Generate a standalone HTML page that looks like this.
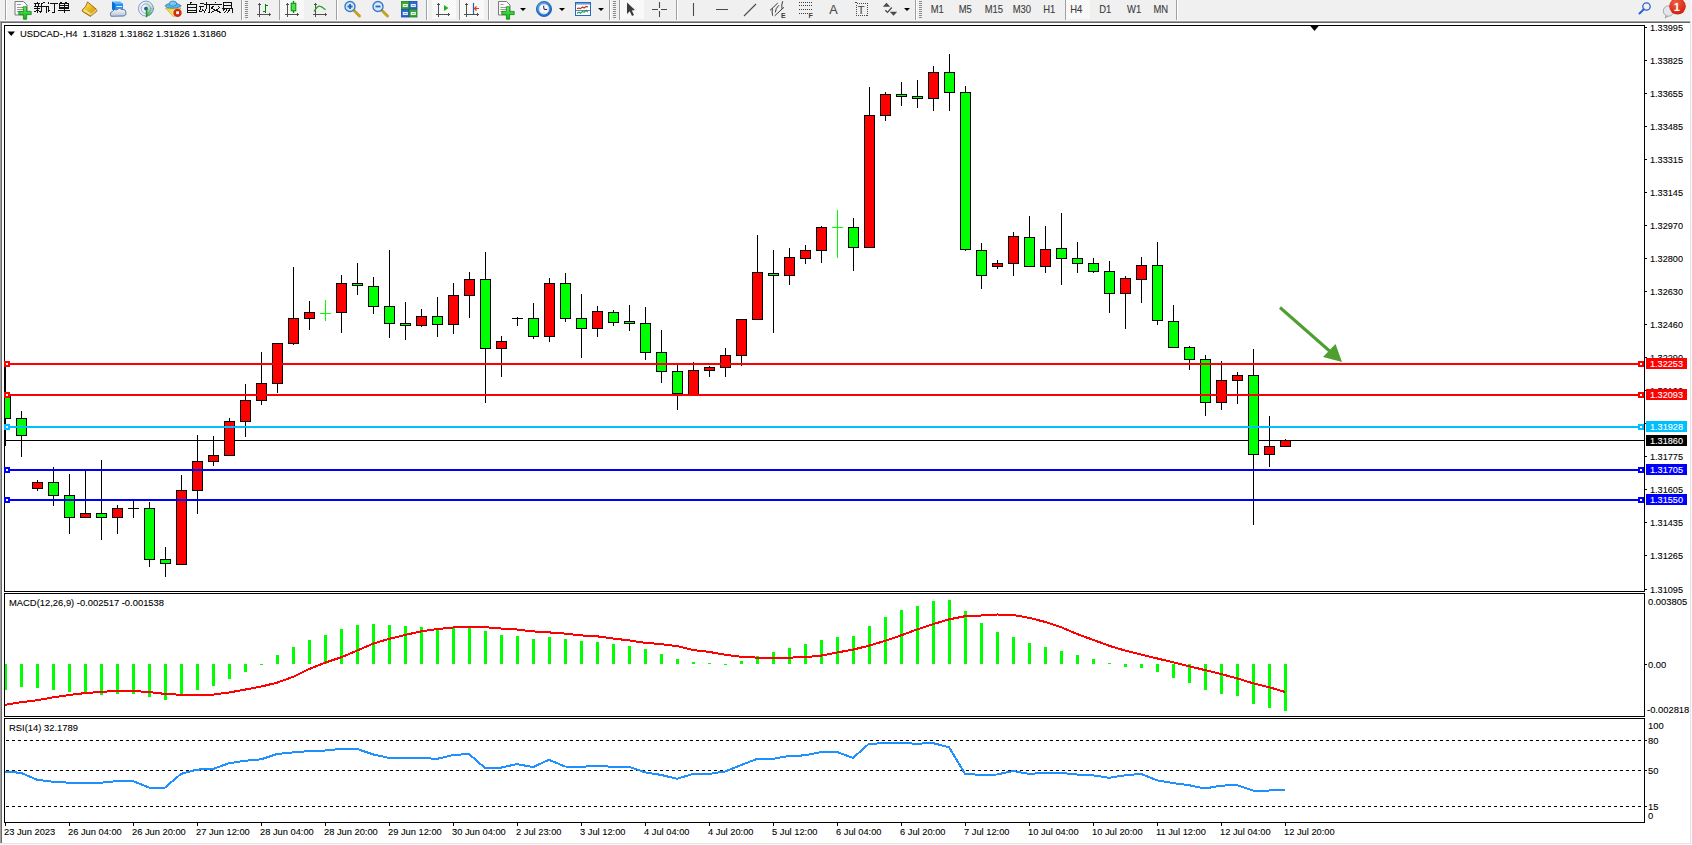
<!DOCTYPE html>
<html><head><meta charset="utf-8"><title>MT4</title>
<style>
html,body{margin:0;padding:0;width:1692px;height:845px;overflow:hidden;background:#f0f0f0;}
svg{position:absolute;left:0;top:0;display:block;}
text{font-family:"Liberation Sans",sans-serif;stroke-width:0.1px;}
</style></head><body>
<svg width="1692" height="845" viewBox="0 0 1692 845" shape-rendering="crispEdges">
<rect x="0" y="0" width="1692" height="20" fill="#f0f0f0"/>
<defs><pattern id="chk" width="2" height="2" patternUnits="userSpaceOnUse"><rect width="2" height="2" fill="#f4f4f4"/><rect width="1" height="1" fill="#fdfdfd"/><rect x="1" y="1" width="1" height="1" fill="#fdfdfd"/></pattern><linearGradient id="gold" x1="0" y1="0" x2="1" y2="1"><stop offset="0" stop-color="#fff0a0"/><stop offset="0.5" stop-color="#e8b818"/><stop offset="1" stop-color="#c08810"/></linearGradient><radialGradient id="badge" cx="0.4" cy="0.3" r="0.7"><stop offset="0" stop-color="#f06040"/><stop offset="1" stop-color="#d02010"/></radialGradient><linearGradient id="gpl" x1="0" y1="0" x2="0" y2="1"><stop offset="0" stop-color="#60f060"/><stop offset="1" stop-color="#10b010"/></linearGradient><linearGradient id="blu" x1="0" y1="0" x2="1" y2="1"><stop offset="0" stop-color="#70b8f0"/><stop offset="1" stop-color="#1060c0"/></linearGradient><linearGradient id="cld" x1="0" y1="0" x2="0" y2="1"><stop offset="0" stop-color="#ffffff"/><stop offset="1" stop-color="#b8c4d8"/></linearGradient><linearGradient id="sig" x1="0" y1="0" x2="0" y2="1"><stop offset="0" stop-color="#e8f0e0" stop-opacity="0.3"/><stop offset="1" stop-color="#40b040"/></linearGradient><linearGradient id="yel" x1="0" y1="0" x2="1" y2="1"><stop offset="0" stop-color="#f0c830"/><stop offset="1" stop-color="#ffff90"/></linearGradient><radialGradient id="clk" cx="0.4" cy="0.35" r="0.7"><stop offset="0" stop-color="#6ab8ff"/><stop offset="1" stop-color="#1060c8"/></radialGradient></defs>
<g shape-rendering="crispEdges">
<rect x="5" y="0" width="1" height="20" fill="#a0a0a0"/><rect x="6" y="0" width="1" height="20" fill="#ffffff"/>
<rect x="241" y="0" width="1" height="20" fill="#a0a0a0"/><rect x="242" y="0" width="1" height="20" fill="#ffffff"/>
<rect x="245" y="1" width="3" height="1" fill="#8c8c8c"/>
<rect x="245" y="3" width="3" height="1" fill="#8c8c8c"/>
<rect x="245" y="5" width="3" height="1" fill="#8c8c8c"/>
<rect x="245" y="7" width="3" height="1" fill="#8c8c8c"/>
<rect x="245" y="9" width="3" height="1" fill="#8c8c8c"/>
<rect x="245" y="11" width="3" height="1" fill="#8c8c8c"/>
<rect x="245" y="13" width="3" height="1" fill="#8c8c8c"/>
<rect x="245" y="15" width="3" height="1" fill="#8c8c8c"/>
<rect x="245" y="17" width="3" height="1" fill="#8c8c8c"/>
<rect x="279" y="0" width="1" height="20" fill="#a0a0a0"/><rect x="280" y="0" width="1" height="20" fill="#ffffff"/>
<rect x="280" y="0" width="24" height="19" fill="url(#chk)"/>
<rect x="336" y="0" width="1" height="20" fill="#a0a0a0"/><rect x="337" y="0" width="1" height="20" fill="#ffffff"/>
<rect x="426" y="0" width="1" height="20" fill="#a0a0a0"/><rect x="427" y="0" width="1" height="20" fill="#ffffff"/>
<rect x="432" y="0" width="24" height="19" fill="url(#chk)"/>
<rect x="459" y="0" width="1" height="20" fill="#a0a0a0"/><rect x="460" y="0" width="1" height="20" fill="#ffffff"/>
<rect x="460" y="0" width="24" height="19" fill="url(#chk)"/>
<rect x="488" y="0" width="1" height="20" fill="#a0a0a0"/><rect x="489" y="0" width="1" height="20" fill="#ffffff"/>
<rect x="609" y="0" width="1" height="20" fill="#a0a0a0"/><rect x="610" y="0" width="1" height="20" fill="#ffffff"/>
<rect x="613" y="1" width="3" height="1" fill="#8c8c8c"/>
<rect x="613" y="3" width="3" height="1" fill="#8c8c8c"/>
<rect x="613" y="5" width="3" height="1" fill="#8c8c8c"/>
<rect x="613" y="7" width="3" height="1" fill="#8c8c8c"/>
<rect x="613" y="9" width="3" height="1" fill="#8c8c8c"/>
<rect x="613" y="11" width="3" height="1" fill="#8c8c8c"/>
<rect x="613" y="13" width="3" height="1" fill="#8c8c8c"/>
<rect x="613" y="15" width="3" height="1" fill="#8c8c8c"/>
<rect x="613" y="17" width="3" height="1" fill="#8c8c8c"/>
<rect x="619" y="0" width="1" height="20" fill="#a0a0a0"/><rect x="620" y="0" width="1" height="20" fill="#ffffff"/>
<rect x="620" y="0" width="24" height="19" fill="url(#chk)"/>
<rect x="676" y="0" width="1" height="20" fill="#a0a0a0"/><rect x="677" y="0" width="1" height="20" fill="#ffffff"/>
<rect x="915" y="0" width="1" height="20" fill="#a0a0a0"/><rect x="916" y="0" width="1" height="20" fill="#ffffff"/>
<rect x="919" y="1" width="3" height="1" fill="#8c8c8c"/>
<rect x="919" y="3" width="3" height="1" fill="#8c8c8c"/>
<rect x="919" y="5" width="3" height="1" fill="#8c8c8c"/>
<rect x="919" y="7" width="3" height="1" fill="#8c8c8c"/>
<rect x="919" y="9" width="3" height="1" fill="#8c8c8c"/>
<rect x="919" y="11" width="3" height="1" fill="#8c8c8c"/>
<rect x="919" y="13" width="3" height="1" fill="#8c8c8c"/>
<rect x="919" y="15" width="3" height="1" fill="#8c8c8c"/>
<rect x="919" y="17" width="3" height="1" fill="#8c8c8c"/>
<rect x="1065" y="0" width="1" height="20" fill="#a0a0a0"/><rect x="1066" y="0" width="1" height="20" fill="#ffffff"/>
<rect x="1066" y="0" width="24" height="19" fill="url(#chk)"/>
<rect x="1176" y="0" width="1" height="20" fill="#a0a0a0"/><rect x="1177" y="0" width="1" height="20" fill="#ffffff"/>
</g>
<g shape-rendering="auto" fill="none" stroke-linecap="square">
<path d="M15.5,1.5 h8 l3.5,3.5 v10 h-11.5 z" fill="#fafafa" stroke="#7a7a7a"/>
<path d="M17.5,4.5 h3 M17.5,7.5 h7 M17.5,9.5 h7 M17.5,11.5 h5" stroke="#9a9a9a"/>
<path d="M23.4,6.8 h3.2 v4.6 h4.6 v3.2 h-4.6 v4.6 h-3.2 v-4.6 h-4.6 v-3.2 h4.6 z" fill="url(#gpl)" stroke="#0a8a0a" stroke-width="0.8"/>
<path d="M88,2.3 L96.8,9.6 L96.8,11.2 L90.5,16.4 L82.3,11.3 L82.3,10 L85.3,6.8 Z" fill="url(#gold)" stroke="#9a5a08" stroke-width="0.9"/>
<path d="M83.4,10.4 L90.4,15 L90.9,13.6 L84.6,9.4 Z" fill="#f8e8a8"/>
<path d="M91.2,15.2 L96.3,10.6 M91.2,14 L96.3,9.6" stroke="#e8dca0" stroke-width="0.8"/>
<path d="M112,1.5 L120,1.5 L123,3.5 L115,3.5 Z" fill="#58b4ff"/>
<path d="M112,1.5 L115,3.5 L115,11 L112,9.5 Z" fill="#0a6ed8"/>
<rect x="115" y="3.5" width="8" height="7.5" fill="#1a92f4"/>
<path d="M117,6.5 h4.5" stroke="#ffffff" stroke-width="1.1"/>
<path d="M110.8,15.8 q-1.6,-3.4 1.8,-4.4 q1.2,-2.6 4.2,-1.6 q2.2,-2.8 5.4,-0.2 q3.8,-0.6 3.6,3.2 q0.8,3 -2.4,3.2 z" fill="url(#cld)" stroke="#4a6a9a" stroke-width="0.9"/>
<path d="M146,8.6 L146,1.1 A7.5,7.5 0 0 1 146,16.1 Z" fill="url(#sig)"/>
<circle cx="146" cy="8.6" r="7.5" stroke="#4a78d0" stroke-width="0.9" opacity="0.8"/>
<circle cx="146" cy="8.6" r="4.8" stroke="#6a90d8" stroke-width="0.9" opacity="0.8"/>
<circle cx="146" cy="8.6" r="1.9" fill="#2050c0"/>
<path d="M146.6,9 v7.5" stroke="#1a9a1a" stroke-width="1.5"/>
<path d="M166,8 L181,8 L174,16.5 Z" fill="url(#yel)" stroke="#c8a020" stroke-width="0.8"/>
<ellipse cx="173" cy="5.8" rx="7.8" ry="2.4" fill="#62b2ea" stroke="#2a88b8" stroke-width="0.8"/>
<ellipse cx="173" cy="3.6" rx="3.8" ry="2.6" fill="#7cc4f2" stroke="#2a88b8" stroke-width="0.8"/>
<circle cx="177.5" cy="12.9" r="4.2" fill="#d42a14"/>
<rect x="176.2" y="11.3" width="2.8" height="2.8" fill="#ffffff"/>
</g>
<path transform="translate(34,2)" d="M3.4,0.2 v1.3 M0,1.5 h6 M1.3,2.4 l0.6,1.4 M4.7,2.4 l-0.6,1.4 M0,4.4 h6.5 M0.3,6.3 h5.8 M3.4,4.4 v6.6 M3.4,7.6 l-2.9,2.6 M3.4,7.6 l2.6,2 M10.6,0.2 l-3.1,1.3 M7.5,1.5 v4.5 q0,3 -0.9,4.8 M7.5,4.4 h7 M12.5,4.4 v6.6" fill="none" stroke="#111" stroke-width="1" stroke-linecap="butt"/>
<path transform="translate(46,2)" d="M1.9,0.3 l1.2,1.5 M0.8,4.5 h1.4 v5 l2.2,-1.8 M4.4,1.5 h7.8 M8.5,1.5 v9.3 l-2.4,-0.6" fill="none" stroke="#111" stroke-width="1" stroke-linecap="butt"/>
<path transform="translate(58,2)" d="M2.5,0 l1,1.2 M8.5,0 l-1,1.2 M1.4,1.5 h9 v5.2 h-9 z M1.4,3.4 h9 M1.4,5.1 h9 M0,8.4 h12 M6,1.5 v9.3" fill="none" stroke="#111" stroke-width="1" stroke-linecap="butt"/>
<path transform="translate(187,2)" d="M4.2,0 l-0.6,1.6 M0.6,2.4 h8.4 v8.1 h-8.4 z M0.6,5.2 h8.4 M0.6,8 h8.4" fill="none" stroke="#111" stroke-width="1" stroke-linecap="butt"/>
<path transform="translate(198.5,2)" d="M1,1.4 h4.2 M0,4.5 h5.5 M2.6,4.5 L0.8,9.6 L5,8.6 M3.8,7 L5.2,9.2 M5.8,2.6 h5 v8 l-1.2,-0.3 M8,0 v4 q-0.3,4.5 -2.2,6.5" fill="none" stroke="#111" stroke-width="1" stroke-linecap="butt"/>
<path transform="translate(210,2)" d="M5.6,0 v1.4 M0.3,2.5 h11.2 M3.3,4 L1.2,6.5 M8.3,4 L10.5,6.5 M2.4,6.6 L11,10.7 M9.2,6.6 L0.6,10.7" fill="none" stroke="#111" stroke-width="1" stroke-linecap="butt"/>
<path transform="translate(222,2)" d="M1.8,0.6 h7.8 v5.5 h-7.8 z M1.8,3.7 h7.8 M0.3,6 h10.5 v4.6 l-1.2,-0.3 M2.6,6.5 L0.6,9.5 M5.6,6.5 L2.6,10.6 M8.5,6.5 L5.4,10.6" fill="none" stroke="#111" stroke-width="1" stroke-linecap="butt"/>
<g shape-rendering="auto" fill="none">
<g shape-rendering="crispEdges" fill="#505050"><rect x="259" y="3" width="1" height="14"/><rect x="258" y="4" width="3" height="1"/><rect x="257" y="14" width="14" height="1"/><rect x="269" y="13" width="1" height="3"/></g>
<g shape-rendering="crispEdges" fill="#008000"><rect x="265" y="4" width="1" height="9"/><rect x="266" y="5" width="2" height="1"/><rect x="263" y="11" width="2" height="1"/></g>
<g shape-rendering="crispEdges" fill="#505050"><rect x="287" y="3" width="1" height="14"/><rect x="286" y="4" width="3" height="1"/><rect x="285" y="14" width="14" height="1"/><rect x="297" y="13" width="1" height="3"/></g>
<path d="M293.5,1 v12" stroke="#009000" stroke-width="1.3"/><rect x="291.2" y="3.2" width="4.6" height="7.6" fill="#50e050" stroke="#009000" stroke-width="1"/>
<g shape-rendering="crispEdges" fill="#505050"><rect x="315" y="3" width="1" height="14"/><rect x="314" y="4" width="3" height="1"/><rect x="313" y="14" width="14" height="1"/><rect x="325" y="13" width="1" height="3"/></g>
<path d="M314,11.5 Q318,5 320,6.3 Q322,6.5 325.5,9.8" stroke="#20a020" stroke-width="1.2"/>
<path d="M354,10.5 l5.5,5.5" stroke="#c8a020" stroke-width="3" stroke-linecap="round"/>
<circle cx="350" cy="6.5" r="5" fill="#d4ecfa" stroke="#3a78c8" stroke-width="1.4"/>
<path d="M347.5,6.5 h5 M350,4 v5" stroke="#2a68b8" stroke-width="1.8"/>
<path d="M382,10.5 l5.5,5.5" stroke="#c8a020" stroke-width="3" stroke-linecap="round"/>
<circle cx="378" cy="6.5" r="5" fill="#d4ecfa" stroke="#3a78c8" stroke-width="1.4"/>
<path d="M375.5,6.5 h5" stroke="#2a68b8" stroke-width="1.8"/>
<rect x="401.5" y="1.5" width="7.5" height="7.5" fill="#38a838" stroke="#208020" stroke-width="0.8"/>
<rect x="402.8" y="4" width="5" height="3" fill="#ffffff" opacity="0.9"/>
<rect x="403.8" y="5" width="3" height="1" fill="#38a838" opacity="0.6"/>
<rect x="409.5" y="1.5" width="7.5" height="7.5" fill="#2a6ad8" stroke="#1a4aa8" stroke-width="0.8"/>
<rect x="410.8" y="4" width="5" height="3" fill="#ffffff" opacity="0.9"/>
<rect x="411.8" y="5" width="3" height="1" fill="#2a6ad8" opacity="0.6"/>
<rect x="401.5" y="9.5" width="7.5" height="7.5" fill="#2a6ad8" stroke="#1a4aa8" stroke-width="0.8"/>
<rect x="402.8" y="12" width="5" height="3" fill="#ffffff" opacity="0.9"/>
<rect x="403.8" y="13" width="3" height="1" fill="#2a6ad8" opacity="0.6"/>
<rect x="409.5" y="9.5" width="7.5" height="7.5" fill="#38a838" stroke="#208020" stroke-width="0.8"/>
<rect x="410.8" y="12" width="5" height="3" fill="#ffffff" opacity="0.9"/>
<rect x="411.8" y="13" width="3" height="1" fill="#38a838" opacity="0.6"/>
<g shape-rendering="crispEdges" fill="#505050"><rect x="438" y="3" width="1" height="14"/><rect x="437" y="4" width="3" height="1"/><rect x="436" y="14" width="14" height="1"/><rect x="448" y="13" width="1" height="3"/></g>
<polygon points="444,5 448.5,8 444,11" fill="#20b020"/>
<g shape-rendering="crispEdges" fill="#505050"><rect x="466" y="3" width="1" height="14"/><rect x="465" y="4" width="3" height="1"/><rect x="464" y="14" width="15" height="1"/><rect x="477" y="13" width="1" height="3"/></g>
<path d="M473.5,3 v11" stroke="#2060c0" stroke-width="1.2"/><path d="M479,8.5 h-4 M476.5,6.5 l-2,2 l2,2" stroke="#e04020" stroke-width="1.2"/>
<path d="M498.5,1.5 h8 l3.5,3.5 v10 h-11.5 z" fill="#fafafa" stroke="#7a7a7a"/>
<path d="M500.5,4.5 h3 M500.5,7.5 h7 M500.5,9.5 h7 M500.5,11.5 h5" stroke="#9a9a9a"/>
<path d="M506.4,6.8 h3.2 v4.6 h4.6 v3.2 h-4.6 v4.6 h-3.2 v-4.6 h-4.6 v-3.2 h4.6 z" fill="url(#gpl)" stroke="#0a8a0a" stroke-width="0.8"/>
<polygon points="520,8 526,8 523,11" fill="#000"/>
<polygon points="559,8 565,8 562,11" fill="#000"/>
<polygon points="598,8 604,8 601,11" fill="#000"/>
<polygon points="904,8 910,8 907,11" fill="#000"/>
<circle cx="544" cy="9" r="7.6" fill="url(#clk)" stroke="#0a4a98" stroke-width="0.7"/><circle cx="544" cy="9" r="5.2" fill="#f6f9fc" stroke="#7aa8d8" stroke-width="0.5"/>
<path d="M544,4.6 v0.9 M548.4,9 h-0.9 M544,13.4 v-0.9 M539.6,9 h0.9" stroke="#8090a0" stroke-width="0.7"/>
<path d="M543.6,5.8 L544,9.2 L547,9.6" stroke="#202020" stroke-width="1"/>
<rect x="575.5" y="2.5" width="15" height="13" fill="#ffffff" stroke="#2a68c0" stroke-width="1"/><rect x="576" y="3" width="14" height="1.6" fill="#6aa0e0"/>
<path d="M577,8.6 l2,-0.6 l1.5,0.6 l2,-1.6 l1.6,1 l2,-1.6 l2,0.6" stroke="#b83010" stroke-width="1.1"/><path d="M577,13.2 l2,-1 l1.5,1 l2,-1.8 l1.6,1 l2,-2 l1.6,1.8" stroke="#20a030" stroke-width="1.1"/>
<path d="M576,10.5 h14" stroke="#2a68c0" stroke-width="0.8"/>
<path d="M627,2.5 L627,14 L629.8,11.2 L632,16 L634,15 L631.8,10.5 L635,10 Z" fill="#3c3c3c"/>
<path d="M652,9.5 h6 M661,9.5 h6 M659.5,2 v6 M659.5,11 v6" stroke="#4a4a4a" stroke-width="1.1"/>
<path d="M693.5,3 v13 M716,9.5 h12 M744,16 L756,4" stroke="#4a4a4a" stroke-width="1.1"/>
<path d="M770,10.4 L777.8,3 M774.6,15.9 L784,7.3 M772.4,8.3 Q771.8,12 772.6,15.7 M778.9,5.3 Q775.6,8 775.3,12.4 M782.7,1.2 Q781.2,5 782,8.9" stroke="#3c3c3c" stroke-width="1"/>
<text x="781" y="18" font-family="Liberation Sans" font-size="7" font-weight="bold" fill="#3c3c3c">E</text>
<path d="M799,2.5 h13" stroke="#3c3c3c" stroke-width="1" stroke-dasharray="1 1"/>
<path d="M799,5.5 h13" stroke="#3c3c3c" stroke-width="1" stroke-dasharray="1 1"/>
<path d="M799,9.5 h13" stroke="#3c3c3c" stroke-width="1" stroke-dasharray="1 1"/>
<path d="M799,13.5 h9" stroke="#3c3c3c" stroke-width="1" stroke-dasharray="1 1"/>
<text x="808.6" y="18" font-family="Liberation Sans" font-size="7" font-weight="bold" fill="#3c3c3c">F</text>
<text x="829.3" y="14" font-family="Liberation Sans" font-size="12.6" fill="#4a4a4a" stroke="#4a4a4a" stroke-width="0.25">A</text>
<rect x="856.5" y="3.5" width="11" height="12" stroke="#4a4a4a" stroke-width="1" stroke-dasharray="1 1" shape-rendering="crispEdges"/>
<rect x="855" y="2" width="2" height="1" fill="#4a4a4a" shape-rendering="crispEdges"/>
<text x="857.8" y="13.8" font-family="Liberation Sans" font-size="11" fill="#4a4a4a" stroke="#4a4a4a" stroke-width="0.3">T</text>
<polygon points="882.8,6.8 890.2,6.8 886.5,2.8" fill="#4a4a4a"/><polygon points="889.8,11.8 897.2,11.8 893.5,15.8" fill="#4a4a4a"/><path d="M885.3,10.3 L887.5,12.4 L891.8,7.5" stroke="#4a4a4a" stroke-width="1.3"/>
<circle cx="1646.5" cy="6.5" r="3.7" stroke="#2a62d0" stroke-width="1.3"/><path d="M1643.8,9.3 L1639.5,13.5" stroke="#2a62d0" stroke-width="2" stroke-linecap="round"/>
<circle cx="1668.5" cy="11" r="5.2" fill="#e4e6ee" stroke="#a0a0a0" stroke-width="0.9"/><path d="M1666,15.5 l-0.8,2.5 l3,-2" fill="#d0d2da" stroke="#909090" stroke-width="0.8"/>
<circle cx="1677.5" cy="6.3" r="8.3" fill="url(#badge)"/>
<text x="1676.7" y="11" font-family="Liberation Serif" font-size="11" font-weight="bold" fill="#ffffff" text-anchor="middle">1</text>
</g>
<text transform="translate(930.7,13) scale(0.9,1)" font-family="Liberation Sans" font-size="10.5" fill="#3c3c3c" stroke="#3c3c3c" stroke-width="0.1">M1</text>
<text transform="translate(958.7,13) scale(0.9,1)" font-family="Liberation Sans" font-size="10.5" fill="#3c3c3c" stroke="#3c3c3c" stroke-width="0.1">M5</text>
<text transform="translate(984.7,13) scale(0.9,1)" font-family="Liberation Sans" font-size="10.5" fill="#3c3c3c" stroke="#3c3c3c" stroke-width="0.1">M15</text>
<text transform="translate(1012.7,13) scale(0.9,1)" font-family="Liberation Sans" font-size="10.5" fill="#3c3c3c" stroke="#3c3c3c" stroke-width="0.1">M30</text>
<text transform="translate(1043.2,13) scale(0.9,1)" font-family="Liberation Sans" font-size="10.5" fill="#3c3c3c" stroke="#3c3c3c" stroke-width="0.1">H1</text>
<text transform="translate(1070.2,13) scale(0.9,1)" font-family="Liberation Sans" font-size="10.5" fill="#3c3c3c" stroke="#3c3c3c" stroke-width="0.1">H4</text>
<text transform="translate(1099.3,13) scale(0.9,1)" font-family="Liberation Sans" font-size="10.5" fill="#3c3c3c" stroke="#3c3c3c" stroke-width="0.1">D1</text>
<text transform="translate(1127.0,13) scale(0.9,1)" font-family="Liberation Sans" font-size="10.5" fill="#3c3c3c" stroke="#3c3c3c" stroke-width="0.1">W1</text>
<text transform="translate(1153.4,13) scale(0.9,1)" font-family="Liberation Sans" font-size="10.5" fill="#3c3c3c" stroke="#3c3c3c" stroke-width="0.1">MN</text>
<rect x="0" y="20" width="1691" height="1" fill="#f7f7f7"/>
<rect x="0" y="21" width="1691" height="1" fill="#a0a0a0"/>
<rect x="0" y="22" width="1690" height="1" fill="#696969"/>
<rect x="0" y="21" width="1" height="822" fill="#a0a0a0"/>
<rect x="1" y="22" width="1" height="821" fill="#696969"/>
<rect x="2" y="23" width="1688" height="820" fill="#ffffff"/>
<rect x="1690" y="21" width="1" height="823" fill="#e3e3e3"/>
<rect x="0" y="843" width="1691" height="1" fill="#e3e3e3"/>
<rect x="0" y="844" width="1692" height="1" fill="#fcfcfc"/>
<rect x="1691" y="0" width="1" height="845" fill="#fcfcfc"/>
<rect x="4" y="25" width="1641" height="1" fill="#000000"/>
<rect x="4" y="591" width="1641" height="1" fill="#000000"/>
<rect x="4" y="25" width="1" height="567" fill="#000000"/>
<rect x="1644" y="25" width="1" height="567" fill="#000000"/>
<rect x="4" y="593" width="1641" height="1" fill="#000000"/>
<rect x="4" y="716" width="1641" height="1" fill="#000000"/>
<rect x="4" y="593" width="1" height="124" fill="#000000"/>
<rect x="1644" y="593" width="1" height="124" fill="#000000"/>
<rect x="4" y="718" width="1641" height="1" fill="#000000"/>
<rect x="4" y="822" width="1641" height="1" fill="#000000"/>
<rect x="4" y="718" width="1" height="105" fill="#000000"/>
<rect x="1644" y="718" width="1" height="105" fill="#000000"/>
<defs><clipPath id="cm"><rect x="5" y="26" width="1639" height="565"/></clipPath><clipPath id="cmacd"><rect x="5" y="594" width="1639" height="122"/></clipPath><clipPath id="crsi"><rect x="5" y="719" width="1639" height="103"/></clipPath></defs>
<g clip-path="url(#cm)">
<rect x="5" y="440" width="1639" height="1" fill="#000000"/>
<rect x="5" y="363" width="1" height="83" fill="#000000"/>
<rect x="0" y="394" width="11" height="25" fill="#000000"/>
<rect x="1" y="395" width="9" height="23" fill="#00ff00"/>
<rect x="21" y="411" width="1" height="46" fill="#000000"/>
<rect x="16" y="418" width="11" height="18" fill="#000000"/>
<rect x="17" y="419" width="9" height="16" fill="#00ff00"/>
<rect x="37" y="480" width="1" height="11" fill="#000000"/>
<rect x="32" y="482" width="11" height="7" fill="#000000"/>
<rect x="33" y="483" width="9" height="5" fill="#ff0000"/>
<rect x="53" y="467" width="1" height="39" fill="#000000"/>
<rect x="48" y="482" width="11" height="14" fill="#000000"/>
<rect x="49" y="483" width="9" height="12" fill="#00ff00"/>
<rect x="69" y="474" width="1" height="60" fill="#000000"/>
<rect x="64" y="495" width="11" height="23" fill="#000000"/>
<rect x="65" y="496" width="9" height="21" fill="#00ff00"/>
<rect x="85" y="471" width="1" height="47" fill="#000000"/>
<rect x="80" y="513" width="11" height="5" fill="#000000"/>
<rect x="81" y="514" width="9" height="3" fill="#ff0000"/>
<rect x="101" y="460" width="1" height="80" fill="#000000"/>
<rect x="96" y="513" width="11" height="5" fill="#000000"/>
<rect x="97" y="514" width="9" height="3" fill="#00ff00"/>
<rect x="117" y="505" width="1" height="29" fill="#000000"/>
<rect x="112" y="508" width="11" height="10" fill="#000000"/>
<rect x="113" y="509" width="9" height="8" fill="#ff0000"/>
<rect x="133" y="501" width="1" height="17" fill="#000000"/>
<rect x="128" y="508" width="11" height="1" fill="#000000"/>
<rect x="149" y="502" width="1" height="65" fill="#000000"/>
<rect x="144" y="508" width="11" height="52" fill="#000000"/>
<rect x="145" y="509" width="9" height="50" fill="#00ff00"/>
<rect x="165" y="547" width="1" height="30" fill="#000000"/>
<rect x="160" y="559" width="11" height="5" fill="#000000"/>
<rect x="161" y="560" width="9" height="3" fill="#00ff00"/>
<rect x="181" y="475" width="1" height="90" fill="#000000"/>
<rect x="176" y="490" width="11" height="75" fill="#000000"/>
<rect x="177" y="491" width="9" height="73" fill="#ff0000"/>
<rect x="197" y="435" width="1" height="79" fill="#000000"/>
<rect x="192" y="461" width="11" height="30" fill="#000000"/>
<rect x="193" y="462" width="9" height="28" fill="#ff0000"/>
<rect x="213" y="436" width="1" height="30" fill="#000000"/>
<rect x="208" y="455" width="11" height="7" fill="#000000"/>
<rect x="209" y="456" width="9" height="5" fill="#ff0000"/>
<rect x="229" y="418" width="1" height="38" fill="#000000"/>
<rect x="224" y="421" width="11" height="35" fill="#000000"/>
<rect x="225" y="422" width="9" height="33" fill="#ff0000"/>
<rect x="245" y="384" width="1" height="53" fill="#000000"/>
<rect x="240" y="400" width="11" height="22" fill="#000000"/>
<rect x="241" y="401" width="9" height="20" fill="#ff0000"/>
<rect x="261" y="352" width="1" height="53" fill="#000000"/>
<rect x="256" y="383" width="11" height="18" fill="#000000"/>
<rect x="257" y="384" width="9" height="16" fill="#ff0000"/>
<rect x="277" y="343" width="1" height="50" fill="#000000"/>
<rect x="272" y="343" width="11" height="41" fill="#000000"/>
<rect x="273" y="344" width="9" height="39" fill="#ff0000"/>
<rect x="293" y="267" width="1" height="78" fill="#000000"/>
<rect x="288" y="318" width="11" height="26" fill="#000000"/>
<rect x="289" y="319" width="9" height="24" fill="#ff0000"/>
<rect x="309" y="301" width="1" height="29" fill="#000000"/>
<rect x="304" y="312" width="11" height="7" fill="#000000"/>
<rect x="305" y="313" width="9" height="5" fill="#ff0000"/>
<rect x="325" y="300" width="1" height="21" fill="#00ff00"/>
<rect x="320" y="313" width="11" height="1" fill="#00ff00"/>
<rect x="341" y="275" width="1" height="58" fill="#000000"/>
<rect x="336" y="283" width="11" height="30" fill="#000000"/>
<rect x="337" y="284" width="9" height="28" fill="#ff0000"/>
<rect x="357" y="263" width="1" height="32" fill="#000000"/>
<rect x="352" y="283" width="11" height="3" fill="#000000"/>
<rect x="353" y="284" width="9" height="1" fill="#00ff00"/>
<rect x="373" y="277" width="1" height="37" fill="#000000"/>
<rect x="368" y="286" width="11" height="21" fill="#000000"/>
<rect x="369" y="287" width="9" height="19" fill="#00ff00"/>
<rect x="389" y="250" width="1" height="88" fill="#000000"/>
<rect x="384" y="306" width="11" height="18" fill="#000000"/>
<rect x="385" y="307" width="9" height="16" fill="#00ff00"/>
<rect x="405" y="302" width="1" height="38" fill="#000000"/>
<rect x="400" y="323" width="11" height="3" fill="#000000"/>
<rect x="401" y="324" width="9" height="1" fill="#00ff00"/>
<rect x="421" y="309" width="1" height="18" fill="#000000"/>
<rect x="416" y="316" width="11" height="10" fill="#000000"/>
<rect x="417" y="317" width="9" height="8" fill="#ff0000"/>
<rect x="437" y="297" width="1" height="40" fill="#000000"/>
<rect x="432" y="316" width="11" height="9" fill="#000000"/>
<rect x="433" y="317" width="9" height="7" fill="#00ff00"/>
<rect x="453" y="283" width="1" height="51" fill="#000000"/>
<rect x="448" y="295" width="11" height="30" fill="#000000"/>
<rect x="449" y="296" width="9" height="28" fill="#ff0000"/>
<rect x="469" y="272" width="1" height="46" fill="#000000"/>
<rect x="464" y="279" width="11" height="17" fill="#000000"/>
<rect x="465" y="280" width="9" height="15" fill="#ff0000"/>
<rect x="485" y="252" width="1" height="151" fill="#000000"/>
<rect x="480" y="279" width="11" height="70" fill="#000000"/>
<rect x="481" y="280" width="9" height="68" fill="#00ff00"/>
<rect x="501" y="336" width="1" height="41" fill="#000000"/>
<rect x="496" y="341" width="11" height="8" fill="#000000"/>
<rect x="497" y="342" width="9" height="6" fill="#ff0000"/>
<rect x="517" y="317" width="1" height="9" fill="#000000"/>
<rect x="512" y="318" width="11" height="1" fill="#000000"/>
<rect x="533" y="303" width="1" height="36" fill="#000000"/>
<rect x="528" y="318" width="11" height="19" fill="#000000"/>
<rect x="529" y="319" width="9" height="17" fill="#00ff00"/>
<rect x="549" y="278" width="1" height="64" fill="#000000"/>
<rect x="544" y="283" width="11" height="54" fill="#000000"/>
<rect x="545" y="284" width="9" height="52" fill="#ff0000"/>
<rect x="565" y="273" width="1" height="49" fill="#000000"/>
<rect x="560" y="283" width="11" height="36" fill="#000000"/>
<rect x="561" y="284" width="9" height="34" fill="#00ff00"/>
<rect x="581" y="294" width="1" height="64" fill="#000000"/>
<rect x="576" y="318" width="11" height="11" fill="#000000"/>
<rect x="577" y="319" width="9" height="9" fill="#00ff00"/>
<rect x="597" y="306" width="1" height="31" fill="#000000"/>
<rect x="592" y="311" width="11" height="18" fill="#000000"/>
<rect x="593" y="312" width="9" height="16" fill="#ff0000"/>
<rect x="613" y="310" width="1" height="16" fill="#000000"/>
<rect x="608" y="312" width="11" height="11" fill="#000000"/>
<rect x="609" y="313" width="9" height="9" fill="#00ff00"/>
<rect x="629" y="305" width="1" height="26" fill="#000000"/>
<rect x="624" y="321" width="11" height="3" fill="#000000"/>
<rect x="625" y="322" width="9" height="1" fill="#00ff00"/>
<rect x="645" y="307" width="1" height="53" fill="#000000"/>
<rect x="640" y="323" width="11" height="30" fill="#000000"/>
<rect x="641" y="324" width="9" height="28" fill="#00ff00"/>
<rect x="661" y="330" width="1" height="53" fill="#000000"/>
<rect x="656" y="352" width="11" height="20" fill="#000000"/>
<rect x="657" y="353" width="9" height="18" fill="#00ff00"/>
<rect x="677" y="365" width="1" height="45" fill="#000000"/>
<rect x="672" y="371" width="11" height="23" fill="#000000"/>
<rect x="673" y="372" width="9" height="21" fill="#00ff00"/>
<rect x="693" y="362" width="1" height="33" fill="#000000"/>
<rect x="688" y="370" width="11" height="25" fill="#000000"/>
<rect x="689" y="371" width="9" height="23" fill="#ff0000"/>
<rect x="709" y="366" width="1" height="11" fill="#000000"/>
<rect x="704" y="367" width="11" height="4" fill="#000000"/>
<rect x="705" y="368" width="9" height="2" fill="#ff0000"/>
<rect x="725" y="348" width="1" height="29" fill="#000000"/>
<rect x="720" y="355" width="11" height="13" fill="#000000"/>
<rect x="721" y="356" width="9" height="11" fill="#ff0000"/>
<rect x="741" y="319" width="1" height="47" fill="#000000"/>
<rect x="736" y="319" width="11" height="37" fill="#000000"/>
<rect x="737" y="320" width="9" height="35" fill="#ff0000"/>
<rect x="757" y="235" width="1" height="85" fill="#000000"/>
<rect x="752" y="272" width="11" height="48" fill="#000000"/>
<rect x="753" y="273" width="9" height="46" fill="#ff0000"/>
<rect x="773" y="250" width="1" height="83" fill="#000000"/>
<rect x="768" y="273" width="11" height="3" fill="#000000"/>
<rect x="769" y="274" width="9" height="1" fill="#00ff00"/>
<rect x="789" y="248" width="1" height="37" fill="#000000"/>
<rect x="784" y="257" width="11" height="19" fill="#000000"/>
<rect x="785" y="258" width="9" height="17" fill="#ff0000"/>
<rect x="805" y="245" width="1" height="19" fill="#000000"/>
<rect x="800" y="250" width="11" height="9" fill="#000000"/>
<rect x="801" y="251" width="9" height="7" fill="#ff0000"/>
<rect x="821" y="226" width="1" height="37" fill="#000000"/>
<rect x="816" y="227" width="11" height="24" fill="#000000"/>
<rect x="817" y="228" width="9" height="22" fill="#ff0000"/>
<rect x="837" y="210" width="1" height="48" fill="#00ff00"/>
<rect x="832" y="227" width="11" height="1" fill="#00ff00"/>
<rect x="853" y="218" width="1" height="53" fill="#000000"/>
<rect x="848" y="227" width="11" height="21" fill="#000000"/>
<rect x="849" y="228" width="9" height="19" fill="#00ff00"/>
<rect x="869" y="87" width="1" height="161" fill="#000000"/>
<rect x="864" y="115" width="11" height="133" fill="#000000"/>
<rect x="865" y="116" width="9" height="131" fill="#ff0000"/>
<rect x="885" y="92" width="1" height="29" fill="#000000"/>
<rect x="880" y="94" width="11" height="22" fill="#000000"/>
<rect x="881" y="95" width="9" height="20" fill="#ff0000"/>
<rect x="901" y="82" width="1" height="24" fill="#000000"/>
<rect x="896" y="94" width="11" height="3" fill="#000000"/>
<rect x="897" y="95" width="9" height="1" fill="#00ff00"/>
<rect x="917" y="80" width="1" height="28" fill="#000000"/>
<rect x="912" y="96" width="11" height="3" fill="#000000"/>
<rect x="913" y="97" width="9" height="1" fill="#00ff00"/>
<rect x="933" y="66" width="1" height="45" fill="#000000"/>
<rect x="928" y="72" width="11" height="27" fill="#000000"/>
<rect x="929" y="73" width="9" height="25" fill="#ff0000"/>
<rect x="949" y="54" width="1" height="57" fill="#000000"/>
<rect x="944" y="72" width="11" height="21" fill="#000000"/>
<rect x="945" y="73" width="9" height="19" fill="#00ff00"/>
<rect x="965" y="86" width="1" height="165" fill="#000000"/>
<rect x="960" y="92" width="11" height="158" fill="#000000"/>
<rect x="961" y="93" width="9" height="156" fill="#00ff00"/>
<rect x="981" y="243" width="1" height="46" fill="#000000"/>
<rect x="976" y="250" width="11" height="26" fill="#000000"/>
<rect x="977" y="251" width="9" height="24" fill="#00ff00"/>
<rect x="997" y="260" width="1" height="9" fill="#000000"/>
<rect x="992" y="263" width="11" height="4" fill="#000000"/>
<rect x="993" y="264" width="9" height="2" fill="#ff0000"/>
<rect x="1013" y="232" width="1" height="44" fill="#000000"/>
<rect x="1008" y="236" width="11" height="28" fill="#000000"/>
<rect x="1009" y="237" width="9" height="26" fill="#ff0000"/>
<rect x="1029" y="216" width="1" height="51" fill="#000000"/>
<rect x="1024" y="237" width="11" height="30" fill="#000000"/>
<rect x="1025" y="238" width="9" height="28" fill="#00ff00"/>
<rect x="1045" y="226" width="1" height="47" fill="#000000"/>
<rect x="1040" y="249" width="11" height="18" fill="#000000"/>
<rect x="1041" y="250" width="9" height="16" fill="#ff0000"/>
<rect x="1061" y="213" width="1" height="72" fill="#000000"/>
<rect x="1056" y="248" width="11" height="11" fill="#000000"/>
<rect x="1057" y="249" width="9" height="9" fill="#00ff00"/>
<rect x="1077" y="242" width="1" height="31" fill="#000000"/>
<rect x="1072" y="258" width="11" height="6" fill="#000000"/>
<rect x="1073" y="259" width="9" height="4" fill="#00ff00"/>
<rect x="1093" y="258" width="1" height="15" fill="#000000"/>
<rect x="1088" y="263" width="11" height="9" fill="#000000"/>
<rect x="1089" y="264" width="9" height="7" fill="#00ff00"/>
<rect x="1109" y="261" width="1" height="52" fill="#000000"/>
<rect x="1104" y="271" width="11" height="23" fill="#000000"/>
<rect x="1105" y="272" width="9" height="21" fill="#00ff00"/>
<rect x="1125" y="276" width="1" height="53" fill="#000000"/>
<rect x="1120" y="278" width="11" height="16" fill="#000000"/>
<rect x="1121" y="279" width="9" height="14" fill="#ff0000"/>
<rect x="1141" y="257" width="1" height="46" fill="#000000"/>
<rect x="1136" y="265" width="11" height="15" fill="#000000"/>
<rect x="1137" y="266" width="9" height="13" fill="#ff0000"/>
<rect x="1157" y="242" width="1" height="83" fill="#000000"/>
<rect x="1152" y="265" width="11" height="56" fill="#000000"/>
<rect x="1153" y="266" width="9" height="54" fill="#00ff00"/>
<rect x="1173" y="305" width="1" height="43" fill="#000000"/>
<rect x="1168" y="321" width="11" height="27" fill="#000000"/>
<rect x="1169" y="322" width="9" height="25" fill="#00ff00"/>
<rect x="1189" y="346" width="1" height="24" fill="#000000"/>
<rect x="1184" y="347" width="11" height="13" fill="#000000"/>
<rect x="1185" y="348" width="9" height="11" fill="#00ff00"/>
<rect x="1205" y="355" width="1" height="61" fill="#000000"/>
<rect x="1200" y="359" width="11" height="44" fill="#000000"/>
<rect x="1201" y="360" width="9" height="42" fill="#00ff00"/>
<rect x="1221" y="361" width="1" height="49" fill="#000000"/>
<rect x="1216" y="380" width="11" height="23" fill="#000000"/>
<rect x="1217" y="381" width="9" height="21" fill="#ff0000"/>
<rect x="1237" y="372" width="1" height="32" fill="#000000"/>
<rect x="1232" y="375" width="11" height="6" fill="#000000"/>
<rect x="1233" y="376" width="9" height="4" fill="#ff0000"/>
<rect x="1253" y="349" width="1" height="176" fill="#000000"/>
<rect x="1248" y="375" width="11" height="80" fill="#000000"/>
<rect x="1249" y="376" width="9" height="78" fill="#00ff00"/>
<rect x="1269" y="416" width="1" height="51" fill="#000000"/>
<rect x="1264" y="446" width="11" height="9" fill="#000000"/>
<rect x="1265" y="447" width="9" height="7" fill="#ff0000"/>
<rect x="1285" y="439" width="1" height="8" fill="#000000"/>
<rect x="1280" y="440" width="11" height="7" fill="#000000"/>
<rect x="1281" y="441" width="9" height="5" fill="#ff0000"/>
</g>
<rect x="5" y="363" width="1639" height="2" fill="#ff0000"/>
<rect x="4" y="361" width="6" height="6" fill="#ff0000"/>
<rect x="6" y="363" width="2" height="2" fill="#ffffff"/>
<rect x="1638" y="361" width="6" height="6" fill="#ff0000"/>
<rect x="1640" y="363" width="2" height="2" fill="#ffffff"/>
<rect x="5" y="394" width="1639" height="2" fill="#ff0000"/>
<rect x="4" y="392" width="6" height="6" fill="#ff0000"/>
<rect x="6" y="394" width="2" height="2" fill="#ffffff"/>
<rect x="1638" y="392" width="6" height="6" fill="#ff0000"/>
<rect x="1640" y="394" width="2" height="2" fill="#ffffff"/>
<rect x="5" y="426" width="1639" height="2" fill="#00bfff"/>
<rect x="4" y="424" width="6" height="6" fill="#00bfff"/>
<rect x="6" y="426" width="2" height="2" fill="#ffffff"/>
<rect x="1638" y="424" width="6" height="6" fill="#00bfff"/>
<rect x="1640" y="426" width="2" height="2" fill="#ffffff"/>
<rect x="5" y="469" width="1639" height="2" fill="#0000ff"/>
<rect x="4" y="467" width="6" height="6" fill="#0000ff"/>
<rect x="6" y="469" width="2" height="2" fill="#ffffff"/>
<rect x="1638" y="467" width="6" height="6" fill="#0000ff"/>
<rect x="1640" y="469" width="2" height="2" fill="#ffffff"/>
<rect x="5" y="499" width="1639" height="2" fill="#0000ff"/>
<rect x="4" y="497" width="6" height="6" fill="#0000ff"/>
<rect x="6" y="499" width="2" height="2" fill="#ffffff"/>
<rect x="1638" y="497" width="6" height="6" fill="#0000ff"/>
<rect x="1640" y="499" width="2" height="2" fill="#ffffff"/>
<g shape-rendering="auto"><line x1="1280" y1="307.5" x2="1333" y2="354" stroke="#4f9e30" stroke-width="3"/><polygon points="1342,362 1323,357 1335.5,344" fill="#4f9e30"/></g>
<polygon points="1309.5,25 1319.5,25 1314.5,31" fill="#000" shape-rendering="auto"/>
<g clip-path="url(#cmacd)">
<rect x="4" y="664" width="3" height="26" fill="#00ff00"/>
<rect x="20" y="664" width="3" height="23" fill="#00ff00"/>
<rect x="36" y="664" width="3" height="24" fill="#00ff00"/>
<rect x="52" y="664" width="3" height="26" fill="#00ff00"/>
<rect x="68" y="664" width="3" height="28" fill="#00ff00"/>
<rect x="84" y="664" width="3" height="29" fill="#00ff00"/>
<rect x="100" y="664" width="3" height="31" fill="#00ff00"/>
<rect x="116" y="664" width="3" height="30" fill="#00ff00"/>
<rect x="132" y="664" width="3" height="30" fill="#00ff00"/>
<rect x="148" y="664" width="3" height="33" fill="#00ff00"/>
<rect x="164" y="664" width="3" height="36" fill="#00ff00"/>
<rect x="180" y="664" width="3" height="32" fill="#00ff00"/>
<rect x="196" y="664" width="3" height="26" fill="#00ff00"/>
<rect x="212" y="664" width="3" height="22" fill="#00ff00"/>
<rect x="228" y="664" width="3" height="15" fill="#00ff00"/>
<rect x="244" y="664" width="3" height="8" fill="#00ff00"/>
<rect x="260" y="664" width="3" height="1" fill="#00ff00"/>
<rect x="276" y="655" width="3" height="9" fill="#00ff00"/>
<rect x="292" y="647" width="3" height="17" fill="#00ff00"/>
<rect x="308" y="640" width="3" height="24" fill="#00ff00"/>
<rect x="324" y="635" width="3" height="29" fill="#00ff00"/>
<rect x="340" y="629" width="3" height="35" fill="#00ff00"/>
<rect x="356" y="625" width="3" height="39" fill="#00ff00"/>
<rect x="372" y="624" width="3" height="40" fill="#00ff00"/>
<rect x="388" y="625" width="3" height="39" fill="#00ff00"/>
<rect x="404" y="626" width="3" height="38" fill="#00ff00"/>
<rect x="420" y="627" width="3" height="37" fill="#00ff00"/>
<rect x="436" y="628" width="3" height="36" fill="#00ff00"/>
<rect x="452" y="627" width="3" height="37" fill="#00ff00"/>
<rect x="468" y="627" width="3" height="37" fill="#00ff00"/>
<rect x="484" y="631" width="3" height="33" fill="#00ff00"/>
<rect x="500" y="635" width="3" height="29" fill="#00ff00"/>
<rect x="516" y="636" width="3" height="28" fill="#00ff00"/>
<rect x="532" y="639" width="3" height="25" fill="#00ff00"/>
<rect x="548" y="637" width="3" height="27" fill="#00ff00"/>
<rect x="564" y="639" width="3" height="25" fill="#00ff00"/>
<rect x="580" y="641" width="3" height="23" fill="#00ff00"/>
<rect x="596" y="642" width="3" height="22" fill="#00ff00"/>
<rect x="612" y="644" width="3" height="20" fill="#00ff00"/>
<rect x="628" y="646" width="3" height="18" fill="#00ff00"/>
<rect x="644" y="649" width="3" height="15" fill="#00ff00"/>
<rect x="660" y="654" width="3" height="10" fill="#00ff00"/>
<rect x="676" y="659" width="3" height="5" fill="#00ff00"/>
<rect x="692" y="662" width="3" height="2" fill="#00ff00"/>
<rect x="708" y="663" width="3" height="1" fill="#00ff00"/>
<rect x="724" y="664" width="3" height="1" fill="#00ff00"/>
<rect x="740" y="661" width="3" height="3" fill="#00ff00"/>
<rect x="756" y="656" width="3" height="8" fill="#00ff00"/>
<rect x="772" y="652" width="3" height="12" fill="#00ff00"/>
<rect x="788" y="648" width="3" height="16" fill="#00ff00"/>
<rect x="804" y="644" width="3" height="20" fill="#00ff00"/>
<rect x="820" y="640" width="3" height="24" fill="#00ff00"/>
<rect x="836" y="637" width="3" height="27" fill="#00ff00"/>
<rect x="852" y="636" width="3" height="28" fill="#00ff00"/>
<rect x="868" y="626" width="3" height="38" fill="#00ff00"/>
<rect x="884" y="617" width="3" height="47" fill="#00ff00"/>
<rect x="900" y="610" width="3" height="54" fill="#00ff00"/>
<rect x="916" y="606" width="3" height="58" fill="#00ff00"/>
<rect x="932" y="601" width="3" height="63" fill="#00ff00"/>
<rect x="948" y="600" width="3" height="64" fill="#00ff00"/>
<rect x="964" y="611" width="3" height="53" fill="#00ff00"/>
<rect x="980" y="623" width="3" height="41" fill="#00ff00"/>
<rect x="996" y="632" width="3" height="32" fill="#00ff00"/>
<rect x="1012" y="637" width="3" height="27" fill="#00ff00"/>
<rect x="1028" y="643" width="3" height="21" fill="#00ff00"/>
<rect x="1044" y="647" width="3" height="17" fill="#00ff00"/>
<rect x="1060" y="651" width="3" height="13" fill="#00ff00"/>
<rect x="1076" y="655" width="3" height="9" fill="#00ff00"/>
<rect x="1092" y="659" width="3" height="5" fill="#00ff00"/>
<rect x="1108" y="663" width="3" height="1" fill="#00ff00"/>
<rect x="1124" y="664" width="3" height="3" fill="#00ff00"/>
<rect x="1140" y="664" width="3" height="4" fill="#00ff00"/>
<rect x="1156" y="664" width="3" height="8" fill="#00ff00"/>
<rect x="1172" y="664" width="3" height="14" fill="#00ff00"/>
<rect x="1188" y="664" width="3" height="19" fill="#00ff00"/>
<rect x="1204" y="664" width="3" height="26" fill="#00ff00"/>
<rect x="1220" y="664" width="3" height="30" fill="#00ff00"/>
<rect x="1236" y="664" width="3" height="32" fill="#00ff00"/>
<rect x="1252" y="664" width="3" height="40" fill="#00ff00"/>
<rect x="1268" y="664" width="3" height="44" fill="#00ff00"/>
<rect x="1284" y="664" width="3" height="47" fill="#00ff00"/>
<polyline points="5,704.8 21,702.2 37,700.3 53,697.4 69,695.0 85,693.1 101,691.9 117,690.9 133,690.9 149,692.1 165,693.9 181,694.8 197,694.8 213,694.6 229,692.5 245,689.6 261,686.6 277,682.7 293,676.9 309,669.1 325,662.7 341,657.4 357,650.6 373,643.7 389,638.9 405,635.0 421,631.4 437,629.1 453,627.5 469,626.8 485,627.2 501,628.5 517,629.5 533,631.4 549,632.4 565,633.6 581,635.4 597,636.3 613,638.5 629,640.4 645,642.8 661,644.1 677,646.1 693,650.0 709,651.9 725,654.7 741,656.8 757,657.6 773,657.6 789,657.6 805,657.2 821,655.6 837,652.5 853,649.6 869,645.7 885,640.8 901,635.4 917,629.5 933,624.2 949,619.4 965,616.2 981,615.5 997,614.5 1013,614.9 1029,617.8 1045,621.9 1061,627.2 1077,634.0 1093,639.8 1109,645.7 1125,650.6 1141,654.5 1157,658.4 1173,662.3 1189,666.2 1205,670.1 1221,674.0 1237,678.3 1253,683.3 1269,687.2 1285,691.9" fill="none" stroke="#ff0000" stroke-width="2" shape-rendering="crispEdges"/>
</g>
<g clip-path="url(#crsi)">
<line x1="6" y1="740.5" x2="1644" y2="740.5" stroke="#000" stroke-width="1" stroke-dasharray="3 3"/>
<line x1="6" y1="770.5" x2="1644" y2="770.5" stroke="#000" stroke-width="1" stroke-dasharray="3 3"/>
<line x1="6" y1="806.5" x2="1644" y2="806.5" stroke="#000" stroke-width="1" stroke-dasharray="3 3"/>
<polyline points="5,771.5 21,772.9 37,779.7 53,781.7 69,782.7 85,782.7 101,782.7 117,781.1 133,781.1 149,787.5 165,787.5 181,773.9 197,769.6 213,769.0 229,763.2 245,760.8 261,759.3 277,754.0 293,752.4 309,751.1 325,750.5 341,748.9 357,748.9 373,754.4 389,757.9 405,757.9 421,757.9 437,758.9 453,755.0 469,754.0 485,768.0 501,767.6 517,764.1 533,767.1 549,759.8 565,766.5 581,766.7 597,766.1 613,766.7 629,766.7 645,772.4 661,774.9 677,778.8 693,773.9 709,773.9 725,771.5 741,765.1 757,758.9 773,758.9 789,755.9 805,755.4 821,752.0 837,752.0 853,757.9 869,743.7 885,743.3 901,743.1 917,743.7 933,743.1 949,747.2 965,773.9 981,774.9 997,774.5 1013,771.0 1029,773.9 1045,772.9 1061,772.9 1077,774.5 1093,775.3 1109,777.8 1125,775.3 1141,773.9 1157,780.3 1173,783.1 1189,785.2 1205,788.5 1221,785.6 1237,785.2 1253,790.5 1269,790.5 1285,789.5" fill="none" stroke="#1e90ff" stroke-width="2" shape-rendering="crispEdges"/>
</g>
<rect x="1645" y="27" width="2" height="1" fill="#000000"/>
<rect x="1645" y="60" width="2" height="1" fill="#000000"/>
<rect x="1645" y="93" width="2" height="1" fill="#000000"/>
<rect x="1645" y="126" width="2" height="1" fill="#000000"/>
<rect x="1645" y="159" width="2" height="1" fill="#000000"/>
<rect x="1645" y="192" width="2" height="1" fill="#000000"/>
<rect x="1645" y="225" width="2" height="1" fill="#000000"/>
<rect x="1645" y="258" width="2" height="1" fill="#000000"/>
<rect x="1645" y="291" width="2" height="1" fill="#000000"/>
<rect x="1645" y="324" width="2" height="1" fill="#000000"/>
<rect x="1645" y="357" width="2" height="1" fill="#000000"/>
<rect x="1645" y="390" width="2" height="1" fill="#000000"/>
<rect x="1645" y="423" width="2" height="1" fill="#000000"/>
<rect x="1645" y="456" width="2" height="1" fill="#000000"/>
<rect x="1645" y="489" width="2" height="1" fill="#000000"/>
<rect x="1645" y="522" width="2" height="1" fill="#000000"/>
<rect x="1645" y="555" width="2" height="1" fill="#000000"/>
<rect x="1645" y="589" width="2" height="1" fill="#000000"/>
<rect x="1645" y="664" width="2" height="1" fill="#000000"/>
<rect x="1645" y="740" width="2" height="1" fill="#000000"/>
<rect x="1645" y="770" width="2" height="1" fill="#000000"/>
<rect x="1645" y="806" width="2" height="1" fill="#000000"/>
<rect x="5" y="823" width="1" height="3" fill="#000000"/>
<rect x="69" y="823" width="1" height="3" fill="#000000"/>
<rect x="133" y="823" width="1" height="3" fill="#000000"/>
<rect x="197" y="823" width="1" height="3" fill="#000000"/>
<rect x="261" y="823" width="1" height="3" fill="#000000"/>
<rect x="325" y="823" width="1" height="3" fill="#000000"/>
<rect x="389" y="823" width="1" height="3" fill="#000000"/>
<rect x="453" y="823" width="1" height="3" fill="#000000"/>
<rect x="517" y="823" width="1" height="3" fill="#000000"/>
<rect x="581" y="823" width="1" height="3" fill="#000000"/>
<rect x="645" y="823" width="1" height="3" fill="#000000"/>
<rect x="709" y="823" width="1" height="3" fill="#000000"/>
<rect x="773" y="823" width="1" height="3" fill="#000000"/>
<rect x="837" y="823" width="1" height="3" fill="#000000"/>
<rect x="901" y="823" width="1" height="3" fill="#000000"/>
<rect x="965" y="823" width="1" height="3" fill="#000000"/>
<rect x="1029" y="823" width="1" height="3" fill="#000000"/>
<rect x="1093" y="823" width="1" height="3" fill="#000000"/>
<rect x="1157" y="823" width="1" height="3" fill="#000000"/>
<rect x="1221" y="823" width="1" height="3" fill="#000000"/>
<rect x="1285" y="823" width="1" height="3" fill="#000000"/>
<polygon points="7.5,31.5 15,31.5 11.25,36" fill="#000" shape-rendering="auto"/>
<text transform="translate(1650,31) scale(0.925,1)" fill="#000" stroke="#000" font-size="9.9" text-anchor="start" >1.33995</text>
<text transform="translate(1650,64) scale(0.925,1)" fill="#000" stroke="#000" font-size="9.9" text-anchor="start" >1.33825</text>
<text transform="translate(1650,97) scale(0.925,1)" fill="#000" stroke="#000" font-size="9.9" text-anchor="start" >1.33655</text>
<text transform="translate(1650,130) scale(0.925,1)" fill="#000" stroke="#000" font-size="9.9" text-anchor="start" >1.33485</text>
<text transform="translate(1650,163) scale(0.925,1)" fill="#000" stroke="#000" font-size="9.9" text-anchor="start" >1.33315</text>
<text transform="translate(1650,196) scale(0.925,1)" fill="#000" stroke="#000" font-size="9.9" text-anchor="start" >1.33145</text>
<text transform="translate(1650,229) scale(0.925,1)" fill="#000" stroke="#000" font-size="9.9" text-anchor="start" >1.32970</text>
<text transform="translate(1650,262) scale(0.925,1)" fill="#000" stroke="#000" font-size="9.9" text-anchor="start" >1.32800</text>
<text transform="translate(1650,295) scale(0.925,1)" fill="#000" stroke="#000" font-size="9.9" text-anchor="start" >1.32630</text>
<text transform="translate(1650,328) scale(0.925,1)" fill="#000" stroke="#000" font-size="9.9" text-anchor="start" >1.32460</text>
<text transform="translate(1650,361) scale(0.925,1)" fill="#000" stroke="#000" font-size="9.9" text-anchor="start" >1.32290</text>
<text transform="translate(1650,394) scale(0.925,1)" fill="#000" stroke="#000" font-size="9.9" text-anchor="start" >1.32120</text>
<text transform="translate(1650,427) scale(0.925,1)" fill="#000" stroke="#000" font-size="9.9" text-anchor="start" >1.31950</text>
<text transform="translate(1650,460) scale(0.925,1)" fill="#000" stroke="#000" font-size="9.9" text-anchor="start" >1.31775</text>
<text transform="translate(1650,493) scale(0.925,1)" fill="#000" stroke="#000" font-size="9.9" text-anchor="start" >1.31605</text>
<text transform="translate(1650,526) scale(0.925,1)" fill="#000" stroke="#000" font-size="9.9" text-anchor="start" >1.31435</text>
<text transform="translate(1650,559) scale(0.925,1)" fill="#000" stroke="#000" font-size="9.9" text-anchor="start" >1.31265</text>
<text transform="translate(1650,593) scale(0.925,1)" fill="#000" stroke="#000" font-size="9.9" text-anchor="start" >1.31095</text>
<rect x="1646" y="358" width="41" height="11" fill="#ff0000"/>
<text transform="translate(1650,367) scale(0.925,1)" fill="#fff" stroke="#fff" font-size="9.9" text-anchor="start" >1.32253</text>
<rect x="1646" y="389" width="41" height="11" fill="#ff0000"/>
<text transform="translate(1650,398) scale(0.925,1)" fill="#fff" stroke="#fff" font-size="9.9" text-anchor="start" >1.32093</text>
<rect x="1646" y="421" width="41" height="11" fill="#00bfff"/>
<text transform="translate(1650,430) scale(0.925,1)" fill="#fff" stroke="#fff" font-size="9.9" text-anchor="start" >1.31928</text>
<rect x="1646" y="435" width="41" height="11" fill="#000000"/>
<text transform="translate(1650,444) scale(0.925,1)" fill="#fff" stroke="#fff" font-size="9.9" text-anchor="start" >1.31860</text>
<rect x="1646" y="464" width="41" height="11" fill="#0000ff"/>
<text transform="translate(1650,473) scale(0.925,1)" fill="#fff" stroke="#fff" font-size="9.9" text-anchor="start" >1.31705</text>
<rect x="1646" y="494" width="41" height="11" fill="#0000ff"/>
<text transform="translate(1650,503) scale(0.925,1)" fill="#fff" stroke="#fff" font-size="9.9" text-anchor="start" >1.31550</text>
<text transform="translate(1648,605) scale(0.95,1)" fill="#000" stroke="#000" font-size="9.9" text-anchor="start" >0.003805</text>
<text transform="translate(1648,668) scale(0.95,1)" fill="#000" stroke="#000" font-size="9.9" text-anchor="start" >0.00</text>
<text transform="translate(1647,713) scale(0.95,1)" fill="#000" stroke="#000" font-size="9.9" text-anchor="start" >-0.002818</text>
<text transform="translate(1648,729) scale(0.95,1)" fill="#000" stroke="#000" font-size="9.9" text-anchor="start" >100</text>
<text transform="translate(1648,744) scale(0.95,1)" fill="#000" stroke="#000" font-size="9.9" text-anchor="start" >80</text>
<text transform="translate(1648,774) scale(0.95,1)" fill="#000" stroke="#000" font-size="9.9" text-anchor="start" >50</text>
<text transform="translate(1648,810) scale(0.95,1)" fill="#000" stroke="#000" font-size="9.9" text-anchor="start" >15</text>
<text transform="translate(1648,819) scale(0.95,1)" fill="#000" stroke="#000" font-size="9.9" text-anchor="start" >0</text>
<text transform="translate(4,835) scale(0.94,1)" fill="#000" stroke="#000" font-size="9.9" text-anchor="start" >23 Jun 2023</text>
<text transform="translate(68,835) scale(0.94,1)" fill="#000" stroke="#000" font-size="9.9" text-anchor="start" >26 Jun 04:00</text>
<text transform="translate(132,835) scale(0.94,1)" fill="#000" stroke="#000" font-size="9.9" text-anchor="start" >26 Jun 20:00</text>
<text transform="translate(196,835) scale(0.94,1)" fill="#000" stroke="#000" font-size="9.9" text-anchor="start" >27 Jun 12:00</text>
<text transform="translate(260,835) scale(0.94,1)" fill="#000" stroke="#000" font-size="9.9" text-anchor="start" >28 Jun 04:00</text>
<text transform="translate(324,835) scale(0.94,1)" fill="#000" stroke="#000" font-size="9.9" text-anchor="start" >28 Jun 20:00</text>
<text transform="translate(388,835) scale(0.94,1)" fill="#000" stroke="#000" font-size="9.9" text-anchor="start" >29 Jun 12:00</text>
<text transform="translate(452,835) scale(0.94,1)" fill="#000" stroke="#000" font-size="9.9" text-anchor="start" >30 Jun 04:00</text>
<text transform="translate(516,835) scale(0.94,1)" fill="#000" stroke="#000" font-size="9.9" text-anchor="start" >2 Jul 23:00</text>
<text transform="translate(580,835) scale(0.94,1)" fill="#000" stroke="#000" font-size="9.9" text-anchor="start" >3 Jul 12:00</text>
<text transform="translate(644,835) scale(0.94,1)" fill="#000" stroke="#000" font-size="9.9" text-anchor="start" >4 Jul 04:00</text>
<text transform="translate(708,835) scale(0.94,1)" fill="#000" stroke="#000" font-size="9.9" text-anchor="start" >4 Jul 20:00</text>
<text transform="translate(772,835) scale(0.94,1)" fill="#000" stroke="#000" font-size="9.9" text-anchor="start" >5 Jul 12:00</text>
<text transform="translate(836,835) scale(0.94,1)" fill="#000" stroke="#000" font-size="9.9" text-anchor="start" >6 Jul 04:00</text>
<text transform="translate(900,835) scale(0.94,1)" fill="#000" stroke="#000" font-size="9.9" text-anchor="start" >6 Jul 20:00</text>
<text transform="translate(964,835) scale(0.94,1)" fill="#000" stroke="#000" font-size="9.9" text-anchor="start" >7 Jul 12:00</text>
<text transform="translate(1028,835) scale(0.94,1)" fill="#000" stroke="#000" font-size="9.9" text-anchor="start" >10 Jul 04:00</text>
<text transform="translate(1092,835) scale(0.94,1)" fill="#000" stroke="#000" font-size="9.9" text-anchor="start" >10 Jul 20:00</text>
<text transform="translate(1156,835) scale(0.94,1)" fill="#000" stroke="#000" font-size="9.9" text-anchor="start" >11 Jul 12:00</text>
<text transform="translate(1220,835) scale(0.94,1)" fill="#000" stroke="#000" font-size="9.9" text-anchor="start" >12 Jul 04:00</text>
<text transform="translate(1284,835) scale(0.94,1)" fill="#000" stroke="#000" font-size="9.9" text-anchor="start" >12 Jul 20:00</text>
<text transform="translate(20,37) scale(0.95,1)" fill="#000" stroke="#000" font-size="9.9" text-anchor="start" >USDCAD-,H4&#160;&#160;1.31828 1.31862 1.31826 1.31860</text>
<text transform="translate(9,606) scale(0.95,1)" fill="#000" stroke="#000" font-size="9.9" text-anchor="start" >MACD(12,26,9) -0.002517 -0.001538</text>
<text transform="translate(9,731) scale(0.95,1)" fill="#000" stroke="#000" font-size="9.9" text-anchor="start" >RSI(14) 32.1789</text>
</svg>
</body></html>
